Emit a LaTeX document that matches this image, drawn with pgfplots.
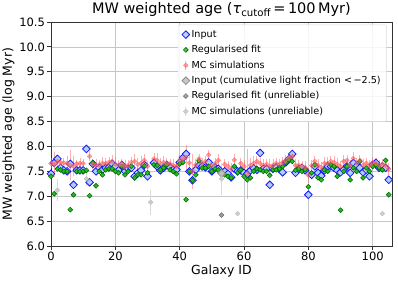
\documentclass[border=0pt]{standalone}
\usepackage{fontspec}
\setmainfont{DejaVu Sans}
\usepackage{pgfplots}
\usepackage{pgfplotstable}
\pgfplotsset{compat=1.18}

\definecolor{inpblue}{RGB}{20,20,255}
\definecolor{inpfill}{RGB}{175,205,250}
\definecolor{fitgreen}{RGB}{40,190,40}
\definecolor{fitedge}{RGB}{0,110,0}
\definecolor{mcred}{RGB}{255,95,95}

\pgfplotsset{
  lgm/.style={legend image code/.code={\draw[mark repeat=2,mark phase=2] plot coordinates {(0pt,0pt) (13pt,0pt) (21pt,0pt)};}},
  lgmc/.style={legend image code/.code={\draw[#1, line width=0.8pt, opacity=0.5] (13pt,-4.5pt) -- (13pt,4.5pt);\draw[mark repeat=2,mark phase=2] plot coordinates {(0pt,0pt) (13pt,0pt) (21pt,0pt)};}},
}

\pgfplotstableread{
id inp fit mc err
0 7.45 7.40 7.66 0.10
1 7.67 7.05 7.64 0.25
2 7.75 7.55 7.70 0.12
3 7.57 7.53 7.68 0.08
4 7.52 7.50 7.67 0.10
5 7.50 7.50 7.66 0.15
6 7.65 6.73 7.62 0.30
7 7.23 7.03 7.60 0.20
8 7.52 7.50 7.65 0.08
9 7.52 7.50 7.66 0.10
10 7.52 7.50 7.66 0.08
11 7.95 7.52 nan 0
12 7.28 7.01 7.80 0.10
13 7.65 7.67 7.65 0.10
14 7.50 7.21 7.62 0.12
15 7.57 7.50 7.63 0.10
16 7.53 7.43 7.66 0.12
17 7.57 7.53 7.66 0.10
18 7.58 7.55 7.68 0.10
19 7.65 7.55 7.70 0.12
20 7.60 7.50 7.64 0.15
21 7.52 7.47 7.62 0.10
22 7.63 7.60 7.65 0.10
23 7.50 7.43 7.60 0.12
24 7.55 7.50 7.62 0.10
25 7.57 7.60 7.68 0.10
26 7.40 7.37 7.70 0.15
27 7.47 7.43 7.64 0.12
28 7.52 7.43 7.66 0.15
29 7.63 7.61 7.72 0.12
30 7.40 7.47 7.60 0.10
31 nan nan nan 0
32 7.67 7.63 7.75 0.12
33 7.60 7.62 7.72 0.15
34 7.52 7.53 7.66 0.10
35 7.57 7.57 7.68 0.12
36 7.63 7.63 7.66 0.10
37 7.58 7.53 7.65 0.10
38 7.53 7.50 7.62 0.12
39 7.53 7.45 7.60 0.10
40 7.68 7.65 7.72 0.10
41 7.77 7.68 7.75 0.12
42 7.85 6.93 7.78 0.25
43 7.50 7.50 7.67 0.15
44 7.32 7.32 7.50 0.35
45 7.53 7.43 7.63 0.12
46 7.62 7.71 7.75 0.10
47 7.60 7.57 7.66 0.10
48 7.58 7.57 7.70 0.10
49 7.68 7.60 7.83 0.10
50 7.50 7.50 7.62 0.10
51 7.58 7.55 7.66 0.10
52 7.55 7.53 7.72 0.12
53 nan nan nan 0
54 7.50 7.43 7.64 0.10
55 7.45 7.40 7.60 0.10
56 7.38 7.37 7.55 0.12
57 7.55 7.60 7.73 0.12
58 7.50 7.47 nan 0
59 7.52 7.53 7.66 0.10
60 7.47 7.40 7.60 0.12
61 7.45 7.33 7.45 0.50
62 7.52 7.37 7.62 0.15
63 7.56 7.50 7.66 0.15
64 7.53 7.55 7.70 0.10
65 7.87 7.53 7.66 0.10
66 7.55 7.50 7.62 0.12
67 7.55 7.50 7.64 0.10
68 7.23 7.42 7.60 0.15
69 7.55 7.53 7.62 0.12
70 7.58 7.53 7.66 0.10
71 7.55 7.55 7.64 0.10
72 7.48 7.60 7.68 0.10
73 7.68 7.68 7.72 0.10
74 7.75 7.73 7.78 0.10
75 7.85 7.70 7.80 0.10
76 7.47 7.52 7.62 0.12
77 7.55 7.55 7.62 0.10
78 7.57 7.50 7.60 0.10
79 7.52 7.53 7.58 0.12
80 7.03 7.19 7.42 0.15
81 7.43 7.47 7.62 0.10
82 7.60 7.63 7.70 0.10
83 7.47 7.37 7.62 0.12
84 7.41 7.33 7.58 0.10
85 7.52 7.53 7.66 0.12
86 7.60 7.50 7.66 0.12
87 7.60 7.63 7.70 0.10
88 7.57 7.60 7.68 0.12
89 7.52 7.40 7.64 0.12
90 7.48 6.72 7.60 0.10
91 7.53 7.50 7.70 0.12
92 7.60 7.60 7.72 0.10
93 7.47 7.33 7.62 0.10
94 7.67 7.57 7.76 0.12
95 7.60 7.50 7.66 0.10
96 7.57 7.70 7.72 0.10
97 7.48 7.37 7.62 0.12
98 7.53 7.57 7.66 0.10
99 7.40 7.50 7.62 0.10
100 7.63 7.60 7.68 0.10
101 7.67 7.63 7.66 0.10
102 7.57 7.57 7.62 0.10
103 7.60 7.53 7.64 0.10
104 7.57 7.72 7.62 0.10
105 7.33 7.03 7.55 0.12
}\main

\pgfplotstableread{
id inp
53 7.46
}\inpU

\pgfplotstableread{
id fit
53 6.62
}\fitU

\pgfplotstableread{
id mc err
2 7.12 0.22
11 7.35 0.15
31 6.88 0.25
53 7.35 0.32
58 6.65 0.0
103 6.65 0.0
}\mcU

\begin{document}
\begin{tikzpicture}
\useasboundingbox (-51pt,-38pt) rectangle (347pt,246pt);
\begin{axis}[
  at={(0,0)}, anchor=south west,
  scale only axis, width=341pt, height=224pt,
  xmin=0, xmax=106, ymin=6, ymax=10.5,
  xtick={0,20,40,60,80,100},
  ytick={6,6.5,7,7.5,8,8.5,9,9.5,10,10.5},
  yticklabel style={/pgf/number format/fixed, /pgf/number format/fixed zerofill, /pgf/number format/precision=1, xshift=1pt},
  /pgf/number format/assume math mode=true,
  tick label style={font=\fontsize{11.5}{13}\selectfont},
  xticklabel style={yshift=1pt},
  label style={font=\fontsize{12.5}{14}\selectfont},
  xlabel style={yshift=3pt},
  ylabel style={yshift=-2pt},
  title style={font=\fontsize{14.5}{16}\selectfont, yshift=-4pt},
  title={MW weighted age (\textit{τ}\textsubscript{cutoff}\,=\,100\,Myr)},
  xlabel={Galaxy ID},
  ylabel={MW weighted age (log Myr)},
  tick align=outside, tick pos=left,
  major tick length=3.5pt,
  every tick/.style={black!80, line width=0.8pt},
  axis line style={black!80, line width=0.8pt},
  grid=major, grid style={black!22, line width=0.7pt},
  unbounded coords=discard,
  legend cell align=left,
  legend style={at={(0.985,0.988)}, anchor=north east,
    draw=black!15, rounded corners=2pt, fill=white, fill opacity=0.85, text opacity=1,
    font=\fontsize{9.6}{10.5}\selectfont, row sep=2.6pt, inner xsep=4pt, inner ysep=3.5pt},
]
\addplot[only marks, mark=square*, mark size=2.7pt,
  mark options={rotate=45, draw=inpblue, fill=inpfill, line width=0.8pt}, lgm]
  table[x=id, y=inp] {\main};
\addlegendentry{Input}
\addplot[only marks, mark=square*, mark size=1.7pt,
  mark options={rotate=45, draw=fitedge, fill=fitgreen, line width=0.6pt}, lgm]
  table[x=id, y=fit] {\main};
\addlegendentry{Regularised fit}
\addplot[only marks, mark=square*, mark size=1.7pt,
  mark options={rotate=45, draw=mcred, fill=mcred, opacity=0.6}, lgmc=mcred,
  error bars/.cd, y dir=both, y explicit,
  error mark=none, error bar style={draw=mcred, line width=0.8pt, opacity=0.5}]
  table[x=id, y=mc, y error=err] {\main};
\addlegendentry{MC simulations}
\addplot[only marks, mark=square*, mark size=2.7pt,
  mark options={rotate=45, draw=black!45, fill=black!25, line width=0.8pt}, lgm]
  table[x=id, y=inp] {\inpU};
\addlegendentry{Input (cumulative light fraction <\,−2.5)}
\addplot[only marks, mark=square*, mark size=1.7pt,
  mark options={rotate=45, draw=black!55, fill=black!40, line width=0.6pt}, lgm]
  table[x=id, y=fit] {\fitU};
\addlegendentry{Regularised fit (unreliable)}
\addplot[only marks, mark=square*, mark size=1.7pt,
  mark options={rotate=45, draw=black!25, fill=black!20}, lgmc=black!30,
  error bars/.cd, y dir=both, y explicit,
  error mark=none, error bar style={draw=black!15, line width=0.8pt}]
  table[x=id, y=mc, y error=err] {\mcU};
\addlegendentry{MC simulations (unreliable)}
\end{axis}
\end{tikzpicture}
\end{document}
